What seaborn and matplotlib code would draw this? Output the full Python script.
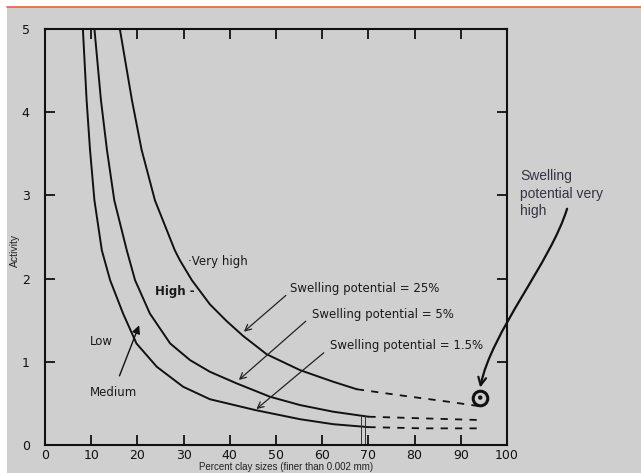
import pandas as pd
import seaborn as sns
import matplotlib.pyplot as plt
from matplotlib.patches import Rectangle, FancyArrowPatch
from matplotlib.lines import Line2D
from matplotlib.path import Path

sns.set_theme(style="ticks")
plt.rcParams["font.family"] = ["DejaVu Sans"]

# readings: percent clay (x) vs activity (y)
clay_15 = [8.2, 9.0, 9.74, 10.7, 12.3, 14.1, 16.9, 19.8, 24.2, 29.9, 35.7,
           45.5, 55.2, 62.4, 70.0]
act_15 = [5.0, 4.15, 3.55, 2.94, 2.34, 1.98, 1.58, 1.22, 0.94, 0.70, 0.55,
          0.42, 0.31, 0.25, 0.215]
clay_5 = [10.7, 12.1, 13.4, 15.0, 17.7, 19.5, 22.7, 27.1, 31.4, 35.7, 41.5,
          48.7, 55.2, 62.4, 70.0]
act_5 = [5.0, 4.15, 3.55, 2.94, 2.34, 1.98, 1.58, 1.22, 1.02, 0.88, 0.74,
         0.58, 0.48, 0.40, 0.34]
clay_25 = [16.2, 18.8, 20.9, 23.8, 28.1, 29.2, 31.8, 35.7, 39.3, 42.9, 48.0,
           55.2, 62.4, 67.5]
act_25 = [5.0, 4.15, 3.55, 2.94, 2.34, 2.22, 1.98, 1.69, 1.49, 1.31, 1.09,
          0.90, 0.76, 0.67]

# dashed extensions
ext_clay_15 = [70.0, 82.0, 93.5]
ext_act_15 = [0.215, 0.20, 0.20]
ext_clay_5 = [70.0, 82.0, 94.2]
ext_act_5 = [0.34, 0.32, 0.30]
ext_clay_25 = [67.5, 76.5, 87.3, 94.9]
ext_act_25 = [0.67, 0.60, 0.52, 0.46]

# marked sample
sample_clay = [94.2]
sample_act = [0.57]

x_ticks = list(range(0, 101, 10))
y_ticks = [0, 1, 2, 3, 4, 5]

bg = "#cfcfcf"
fig = plt.figure(figsize=(6.41, 4.73), dpi=100, facecolor=bg)
ax = fig.add_axes([45 / 641, 28 / 473, 462 / 641, 416 / 473])
ax.set_facecolor(bg)

solid = pd.concat([
    pd.DataFrame({"clay": clay_15, "act": act_15, "sp": "1.5%"}),
    pd.DataFrame({"clay": clay_5, "act": act_5, "sp": "5%"}),
    pd.DataFrame({"clay": clay_25, "act": act_25, "sp": "25%"}),
])
dashed = pd.concat([
    pd.DataFrame({"clay": ext_clay_15, "act": ext_act_15, "sp": "1.5%"}),
    pd.DataFrame({"clay": ext_clay_5, "act": ext_act_5, "sp": "5%"}),
    pd.DataFrame({"clay": ext_clay_25, "act": ext_act_25, "sp": "25%"}),
])
black3 = ["#111111"] * 3
sns.lineplot(data=solid, x="clay", y="act", hue="sp", palette=black3,
             sort=False, estimator=None, lw=1.4, legend=False, ax=ax)
sns.lineplot(data=dashed, x="clay", y="act", hue="sp", palette=black3,
             sort=False, estimator=None, lw=1.3, legend=False, ax=ax,
             dashes=False, linestyle=(0, (4, 4)))

# cut-off marks near 70 %
ax.vlines([68.4, 69.3], 0, 0.36, color="#333333", lw=0.7)

sns.scatterplot(x=sample_clay, y=sample_act, s=110, color=bg,
                edgecolor="#111111", linewidth=2.2, ax=ax, zorder=5)
sns.scatterplot(x=sample_clay, y=sample_act, s=10, color="#111111",
                edgecolor="none", ax=ax, zorder=6)

ax.set_xlim(0, 100)
ax.set_ylim(0, 5)
ax.set_xticks(x_ticks)
ax.set_yticks(y_ticks)
ax.tick_params(direction="in", length=7, width=1.3, top=True, right=True,
               labelsize=9, colors="#111111")
ax.tick_params(axis="x", pad=3)
ax.tick_params(axis="y", pad=11)
for s in ax.spines.values():
    s.set_linewidth(1.5)
    s.set_color("#111111")
ax.set_xlabel("")
ax.set_ylabel("")

txt = dict(fontsize=8.5, color="#1a1a1a")
ax.text(31.0, 2.21, "\u00b7Very high", va="center", **txt)
ax.text(23.8, 1.84, "High -", va="center", fontweight="bold", **txt)
ax.text(9.7, 1.24, "Low", va="center", **txt)
ax.text(9.7, 0.63, "Medium", va="center", **txt)
ax.annotate("", xy=(20.6, 1.47), xytext=(15.9, 0.80),
            arrowprops=dict(arrowstyle="-|>", color="#111111", lw=1.0,
                            mutation_scale=12))

ax.text(53.0, 1.88, "Swelling potential = 25%", va="center", **txt)
ax.text(57.8, 1.57, "Swelling potential = 5%", va="center", **txt)
ax.text(61.7, 1.19, "Swelling potential = 1.5%", va="center", **txt)
arrow = dict(arrowstyle="->", color="#222222", lw=0.9, mutation_scale=11)
ax.annotate("", xy=(42.6, 1.34), xytext=(52.6, 1.82), arrowprops=arrow)
ax.annotate("", xy=(41.5, 0.76), xytext=(56.9, 1.51), arrowprops=arrow)
ax.annotate("", xy=(45.3, 0.41), xytext=(60.8, 1.13), arrowprops=arrow)

ax.text(102.8, 3.32, "Swelling\npotential very\nhigh", va="top", ha="left",
        fontsize=10, color="#333344", family=["Liberation Sans"],
        linespacing=1.35, clip_on=False)
curve = Path([(113.0, 2.84), (109.5, 2.2), (96.5, 1.35), (94.2, 0.69)],
             [Path.MOVETO, Path.CURVE4, Path.CURVE4, Path.CURVE4])
big_arrow = FancyArrowPatch(path=curve, arrowstyle="->", color="#111111",
                            lw=1.6, mutation_scale=14,
                            transform=ax.transData, clip_on=False)
ax.add_patch(big_arrow)

fig.text(15 / 641, 1 - 250 / 473, "Activity", rotation=90, ha="center",
         va="center", fontsize=7.5, family=["Liberation Sans"], color="#222222")
fig.text(286 / 641, 1 - 467 / 473, "Percent clay sizes (finer than 0.002 mm)",
         ha="center", va="center", fontsize=7, family=["Liberation Sans"],
         color="#222222")

# scan border
fig.add_artist(Rectangle((0, 1 - 7 / 473), 1, 7 / 473, transform=fig.transFigure,
                         facecolor="white", edgecolor="none"))
fig.add_artist(Rectangle((0, 0), 7 / 641, 1 - 7 / 473, transform=fig.transFigure,
                         facecolor="white", edgecolor="none"))
fig.add_artist(Line2D([7 / 641, 1], [1 - 7 / 473, 1 - 7 / 473],
                      transform=fig.transFigure, color="#e8603c", lw=1.2))

fig.savefig("out.png", dpi=100, facecolor=bg)
